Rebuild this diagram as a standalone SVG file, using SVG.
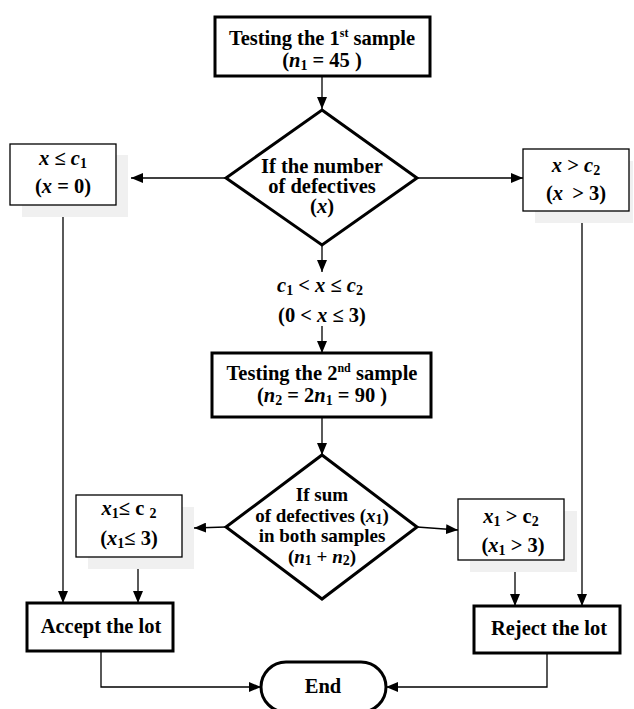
<svg xmlns="http://www.w3.org/2000/svg" width="634" height="709" viewBox="0 0 634 709">
<style>
text{font-family:"Liberation Serif","Times New Roman",serif;font-weight:bold;font-size:20.5px;fill:#000;text-anchor:middle}
.d2{font-size:19px}
.i{font-style:italic}
.sub{font-size:14px}
.sup{font-size:12px}
.thick{fill:#fff;stroke:#000;stroke-width:3}
.thin{fill:#fff;stroke:#000;stroke-width:1.3}
.shadow{fill:#f0f0f0;stroke:none}
.conn{fill:none;stroke:#000;stroke-width:1.3}
</style>
<defs>
<marker id="ah" markerWidth="12" markerHeight="10" refX="12" refY="5" orient="auto" markerUnits="userSpaceOnUse">
<path d="M0,0 L12,5 L0,10 Z" fill="#000"/>
</marker>
</defs>
<rect width="634" height="709" fill="#fff"/>
<g id="connectors">
<line class="conn" x1="322" y1="76" x2="322" y2="109" marker-end="url(#ah)"/>
<line class="conn" x1="226" y1="178" x2="131" y2="178" marker-end="url(#ah)"/>
<line class="conn" x1="417" y1="178" x2="523" y2="178" marker-end="url(#ah)"/>
<line class="conn" x1="322" y1="245" x2="322" y2="272" marker-end="url(#ah)"/>
<line class="conn" x1="322" y1="326" x2="322" y2="353" marker-end="url(#ah)"/>
<line class="conn" x1="322" y1="417" x2="322" y2="455" marker-end="url(#ah)"/>
<line class="conn" x1="226" y1="527" x2="194" y2="528" marker-end="url(#ah)"/>
<line class="conn" x1="417" y1="527" x2="458" y2="530" marker-end="url(#ah)"/>
<line class="conn" x1="63" y1="217" x2="63" y2="603" marker-end="url(#ah)"/>
<line class="conn" x1="138" y1="569" x2="138" y2="603" marker-end="url(#ah)"/>
<line class="conn" x1="515" y1="572" x2="515" y2="606" marker-end="url(#ah)"/>
<line class="conn" x1="582" y1="223" x2="582" y2="606" marker-end="url(#ah)"/>
<polyline class="conn" points="101,651 101,687 261,687" marker-end="url(#ah)"/>
<polyline class="conn" points="547,653 547,687 386,687" marker-end="url(#ah)"/>
</g>
<g id="test1">
<rect class="thick" x="215" y="17" width="215" height="59"/>
<text x="322" y="45">Testing the 1<tspan class="sup" dy="-8">st</tspan><tspan dy="8"> sample</tspan></text>
<text x="322" y="67">(<tspan class="i">n</tspan><tspan class="sub" dy="3">1</tspan><tspan dy="-3"> = 45 )</tspan></text>
</g>
<g id="decision1">
<polygon class="thick" points="322,110 417,178 322,245 226,178"/>
<text x="322" y="173">If the number</text>
<text x="322" y="193">of defectives</text>
<text x="322" y="213">(<tspan class="i">x</tspan>)</text>
</g>
<g id="label-mid">
<text x="320" y="292"><tspan class="i">c</tspan><tspan class="sub" dy="3">1</tspan><tspan dy="-3"> &lt; </tspan><tspan class="i">x</tspan> ≤ <tspan class="i">c</tspan><tspan class="sub" dy="3">2</tspan></text>
<text x="322" y="322">(0 &lt; <tspan class="i">x</tspan> ≤  3)</text>
</g>
<g id="cond-left1">
<rect class="shadow" x="22" y="155" width="106" height="62"/>
<rect class="thin" x="10" y="144" width="106" height="61"/>
<text x="63" y="165"><tspan class="i">x</tspan> ≤ <tspan class="i">c</tspan><tspan class="sub" dy="3">1</tspan></text>
<text x="63" y="193">(<tspan class="i">x</tspan> = 0)</text>
</g>
<g id="cond-right1">
<rect class="shadow" x="535" y="161" width="98" height="62"/>
<rect class="thin" x="523" y="149" width="106" height="62"/>
<text x="576" y="172"><tspan class="i">x</tspan> &gt; <tspan class="i">c</tspan><tspan class="sub" dy="3">2</tspan></text>
<text x="576" y="200">(<tspan class="i">x</tspan>  <tspan dx="4">&gt; 3)</tspan></text>
</g>
<g id="test2">
<rect class="thick" x="212" y="353" width="219" height="64"/>
<text x="322" y="380">Testing the 2<tspan class="sup" dy="-8">nd</tspan><tspan dy="8"> sample</tspan></text>
<text x="322" y="402">(<tspan class="i">n</tspan><tspan class="sub" dy="3">2</tspan><tspan dy="-3"> = 2</tspan><tspan class="i">n</tspan><tspan class="sub" dy="3">1</tspan><tspan dy="-3"> = 90 )</tspan></text>
</g>
<g id="decision2">
<polygon class="thick" points="322,455 417,527 322,599 226,527"/>
<text class="d2" x="322" y="501">If sum</text>
<text class="d2" x="322" y="521.5">of defectives (<tspan class="i">x</tspan><tspan class="sub" dy="2">1</tspan><tspan dy="-2">)</tspan></text>
<text class="d2" x="322" y="542">in both samples</text>
<text class="d2" x="322" y="562.5">(<tspan class="i">n</tspan><tspan class="sub" dy="2">1</tspan><tspan dy="-2"> + </tspan><tspan class="i">n</tspan><tspan class="sub" dy="2">2</tspan><tspan dy="-2">)</tspan></text>
</g>
<g id="cond-left2">
<rect class="shadow" x="88" y="507" width="106" height="62"/>
<rect class="thin" x="76" y="495" width="106" height="62"/>
<text x="129" y="515"><tspan class="i">x</tspan><tspan class="sub" dy="3">1</tspan><tspan dy="-3">≤ c </tspan><tspan class="sub" dy="3">2</tspan></text>
<text x="129" y="545">(<tspan class="i">x</tspan><tspan class="sub" dy="3">1</tspan><tspan dy="-3">≤ 3)</tspan></text>
</g>
<g id="cond-right2">
<rect class="shadow" x="470" y="511" width="107" height="61"/>
<rect class="thin" x="458" y="499" width="106" height="61"/>
<text x="511" y="523"><tspan class="i">x</tspan><tspan class="sub" dy="3">1</tspan><tspan dy="-3"> &gt; c</tspan><tspan class="sub" dy="3">2</tspan></text>
<text x="513" y="552">(<tspan class="i">x</tspan><tspan class="sub" dy="3">1</tspan><tspan dy="-3"> &gt; 3)</tspan></text>
</g>
<g id="accept">
<rect class="thick" x="27" y="603" width="146" height="48"/>
<text x="101" y="633">Accept the lot</text>
</g>
<g id="reject">
<rect class="thick" x="474" y="606" width="146" height="47"/>
<text x="549" y="635">Reject the lot</text>
</g>
<g id="end">
<rect class="thick" x="261" y="662" width="125" height="50" rx="25" ry="25"/>
<text x="323" y="693">End</text>
</g>
</svg>
